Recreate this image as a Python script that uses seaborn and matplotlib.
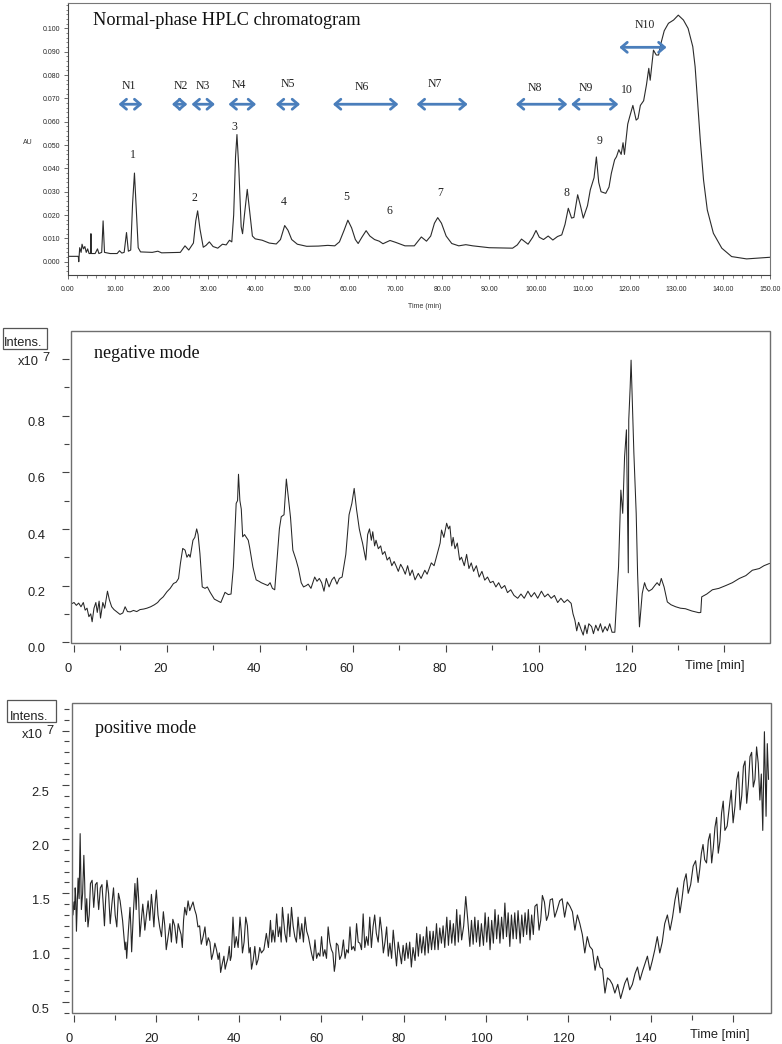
import numpy as np
import pandas as pd
import seaborn as sns
import matplotlib.pyplot as plt
import matplotlib.transforms as mtransforms
from matplotlib.patches import Rectangle
from matplotlib.ticker import MultipleLocator, FixedLocator

# --- HPLC (UV) trace ---
hplc_time = [0, 2.2, 2.3, 2.5, 2.8, 3.0, 3.3, 3.6, 3.9, 4.2, 4.5, 4.8, 4.9, 5.0, 5.8, 6.3, 6.6,
             7.2, 7.5, 7.8, 9.0, 10.5, 11.0, 11.5, 12.0, 12.5, 12.9, 13.4, 13.8, 14.2, 14.6,
             15.0, 15.5, 18.0, 19.2, 20.0, 24.0, 25.0, 25.8, 26.8, 27.3, 27.7, 28.2, 28.9,
             29.5, 30.2, 31.0, 32.0, 33.0, 33.8, 34.5, 35.0, 35.4, 35.8, 36.1, 36.5, 37.0,
             37.3, 37.7, 38.3, 38.8, 39.4, 40.0, 41.5, 43.0, 44.5, 45.4, 46.3, 47.0, 47.8,
             49.0, 51.0, 53.5, 55.5, 57.0, 58.0, 59.0, 59.8, 60.6, 61.4, 62.0, 62.8, 63.7,
             64.5, 65.5, 66.5, 67.3, 68.8, 70.0, 72.0, 74.0, 75.5, 76.6, 77.5, 78.3, 79.0,
             79.8, 80.8, 82.0, 83.5, 85.0, 86.5, 90.0, 95.0, 96.0, 96.9, 98.3, 99.3, 100.0,
             100.7, 101.6, 102.6, 103.6, 104.6, 105.5, 106.2, 106.9, 107.6, 108.1, 108.9,
             109.5, 110.1, 111.0, 111.6, 112.4, 112.9, 113.4, 113.9, 114.9, 115.6, 116.1,
             116.8, 117.2, 117.7, 118.2, 118.6, 118.9, 119.6, 120.0, 120.7, 121.4, 121.8,
             122.3, 123.0, 123.6, 124.1, 124.4, 125.1, 125.7, 126.2, 126.7, 127.4, 128.3,
             129.4, 130.4, 131.5, 132.5, 133.5, 134.0, 134.5, 135.1, 135.8, 136.6, 137.9,
             139.7, 141.8, 145.0, 150.0]
hplc_au = [0.0023, 0.0023, 0.0, 0.006, 0.004, 0.0075, 0.0055, 0.0065, 0.004, 0.0055, 0.0035,
           0.0035, 0.012, 0.0035, 0.0035, 0.0055, 0.0035, 0.004, 0.0175, 0.004, 0.0035,
           0.0035, 0.0047, 0.0037, 0.004, 0.0125, 0.0045, 0.005, 0.025, 0.038, 0.022, 0.006,
           0.0042, 0.004, 0.0045, 0.0038, 0.004, 0.0068, 0.005, 0.008, 0.0175, 0.0218, 0.014,
           0.0062, 0.007, 0.0085, 0.0065, 0.0058, 0.0075, 0.0072, 0.0092, 0.0085, 0.02, 0.045,
           0.0545, 0.04, 0.015, 0.012, 0.02, 0.031, 0.022, 0.011, 0.0098, 0.0092, 0.008,
           0.0076, 0.0095, 0.0155, 0.0135, 0.0095, 0.0075, 0.0066, 0.0067, 0.007, 0.0068,
           0.0085, 0.0135, 0.0178, 0.0145, 0.0095, 0.0078, 0.0105, 0.0133, 0.011, 0.0095,
           0.0088, 0.0077, 0.0091, 0.0083, 0.0068, 0.0068, 0.0106, 0.0088, 0.011, 0.0165,
           0.0189, 0.0165, 0.011, 0.0078, 0.0068, 0.0073, 0.0068, 0.006, 0.0058, 0.0072,
           0.0097, 0.0075, 0.0105, 0.0134, 0.0105, 0.0095, 0.011, 0.0093, 0.0108, 0.0115,
           0.016, 0.0229, 0.0187, 0.019, 0.0287, 0.024, 0.0187, 0.024, 0.0308, 0.036, 0.0449,
           0.034, 0.0300, 0.0293, 0.032, 0.0379, 0.0437, 0.045, 0.048, 0.046, 0.051, 0.046,
           0.059, 0.062, 0.067, 0.0607, 0.0614, 0.067, 0.069, 0.0758, 0.0829, 0.0778, 0.0907,
           0.0886, 0.0886, 0.0936, 0.099, 0.1022, 0.1036, 0.1057, 0.1036, 0.1000, 0.0922,
           0.0836, 0.0693, 0.0522, 0.035, 0.0222, 0.0122, 0.0058, 0.0022, 0.0012, 0.0019]

# fraction windows (start, end) in min and labels
frac_names = ['N1', 'N2', 'N3', 'N4', 'N5', 'N6', 'N7', 'N8', 'N9', 'N10']
frac_start = [10.8, 22.2, 26.4, 34.3, 44.4, 56.6, 74.5, 95.7, 107.5, 117.8]
frac_end = [15.9, 25.5, 31.4, 40.2, 49.6, 70.6, 85.4, 106.7, 117.6, 127.9]
frac_label_x = [12.9, 24.1, 28.7, 36.4, 46.9, 62.7, 78.4, 99.8, 110.7, 123.3]
frac_label_y = [0.0753, 0.0753, 0.0753, 0.0757, 0.0763, 0.0751, 0.0760, 0.0743, 0.0745, 0.1015]
frac_arrow_y = [0.0675, 0.0675, 0.0675, 0.0675, 0.0675, 0.0675, 0.0675, 0.0675, 0.0675, 0.0919]

peak_names = ['1', '2', '3', '4', '5', '6', '7', '8', '9', '10']
peak_x = [13.8, 27.1, 35.5, 46.2, 59.5, 68.7, 79.5, 106.6, 113.5, 119.4]
peak_y = [0.0457, 0.0274, 0.0579, 0.0255, 0.0279, 0.0219, 0.0296, 0.0296, 0.0517, 0.0736]

# --- MS negative mode TIC (x10^7) ---
neg_time = [-0.6, 0.0, 0.5, 1.0, 1.5, 2.0, 2.4, 2.8, 3.2, 3.6, 3.9, 4.3, 4.7, 5.0, 5.4, 5.7,
            6.2, 6.6, 7.2, 7.6, 8.1, 8.6, 9.2, 9.9, 10.5, 11.0, 11.5, 12.1, 12.8, 13.5, 14.2,
            15.0, 15.7, 16.5, 17.3, 18.0, 18.5, 19.2, 20.0, 20.7, 21.4, 22.0, 22.5, 22.9,
            23.4, 23.9, 24.3, 24.7, 25.0, 25.6, 26.0, 26.4, 26.7, 27.1, 27.6, 28.2, 28.7,
            29.3, 30.2, 31.0, 31.6, 32.1, 32.5, 33.2, 33.8, 34.3, 34.9, 35.2, 35.4, 35.7,
            36.0, 36.3, 36.7, 37.1, 37.5, 37.8, 38.5, 39.2, 39.8, 40.3, 41.0, 41.7, 42.2,
            42.7, 43.2, 43.7, 44.2, 44.6, 45.2, 45.7, 46.2, 46.6, 47.1, 47.8, 48.3, 48.9,
            49.4, 50.0, 50.4, 51.0, 51.8, 52.3, 52.8, 53.3, 53.8, 54.3, 54.9, 55.5, 56.0,
            56.6, 57.1, 57.7, 58.5, 59.2, 59.8, 60.3, 60.8, 61.4, 61.8, 62.1, 62.8, 63.2,
            63.6, 64.0, 64.3, 64.7, 65.0, 65.5, 66.0, 66.4, 66.9, 67.4, 67.9, 68.4, 68.9,
            69.3, 69.8, 70.3, 70.8, 71.3, 71.8, 72.3, 72.8, 73.4, 74.1, 74.7, 75.5, 76.0,
            76.9, 77.5, 78.4, 78.8, 79.1, 79.6, 80.2, 80.6, 80.9, 81.3, 81.6, 82.0, 82.5,
            83.0, 83.4, 84.0, 84.5, 85.0, 85.5, 86.0, 86.6, 87.2, 87.8, 88.4, 89.0, 89.6,
            90.2, 90.8, 91.4, 92.0, 92.7, 93.3, 94.0, 94.7, 95.5, 96.2, 96.9, 97.7, 98.4,
            99.1, 99.8, 100.6, 101.3, 102.0, 102.7, 103.4, 104.1, 104.8, 105.5, 106.2, 107.0,
            107.4, 107.8, 108.2, 108.6, 109.2, 109.6, 110.0, 110.4, 110.8, 111.4, 111.8,
            112.3, 112.8, 113.3, 113.8, 114.3, 114.8, 115.3, 115.8, 116.4, 116.8, 117.2,
            117.7, 118.1, 118.5, 118.9, 119.3, 119.4, 119.7, 119.9, 120.1, 120.5, 121.0,
            121.3, 121.7, 122.3, 122.8, 123.2, 123.7, 124.4, 125.0, 125.5, 126.0, 126.4,
            127.0, 127.7, 128.5, 129.5, 130.5, 131.6, 133.0, 134.5, 134.9, 135.1, 136.2,
            137.4, 138.8, 140.3, 141.7, 143.2, 144.6, 146.0, 147.5, 148.5, 149.7]
neg_int = [0.135, 0.14, 0.13, 0.138, 0.125, 0.14, 0.113, 0.12, 0.09, 0.10, 0.072, 0.12, 0.14,
           0.105, 0.145, 0.085, 0.14, 0.12, 0.18, 0.15, 0.125, 0.115, 0.107, 0.098, 0.103,
           0.125, 0.108, 0.107, 0.112, 0.108, 0.115, 0.117, 0.12, 0.125, 0.132, 0.14, 0.15,
           0.16, 0.178, 0.19, 0.207, 0.212, 0.225, 0.278, 0.331, 0.325, 0.30, 0.31, 0.30,
           0.36, 0.37, 0.40, 0.38, 0.313, 0.195, 0.19, 0.195, 0.176, 0.152, 0.145, 0.14, 0.16,
           0.176, 0.168, 0.17, 0.266, 0.49, 0.50, 0.593, 0.50, 0.47, 0.372, 0.38, 0.37, 0.36,
           0.335, 0.265, 0.22, 0.215, 0.21, 0.205, 0.20, 0.21, 0.19, 0.185, 0.29, 0.40, 0.443,
           0.45, 0.576, 0.50, 0.44, 0.325, 0.29, 0.26, 0.21, 0.195, 0.20, 0.205, 0.19, 0.23,
           0.215, 0.225, 0.21, 0.18, 0.225, 0.195, 0.22, 0.23, 0.205, 0.225, 0.23, 0.31, 0.45,
           0.49, 0.543, 0.47, 0.40, 0.37, 0.35, 0.29, 0.38, 0.40, 0.36, 0.39, 0.34, 0.36,
           0.33, 0.34, 0.31, 0.32, 0.29, 0.30, 0.27, 0.285, 0.27, 0.25, 0.275, 0.26, 0.24,
           0.27, 0.235, 0.255, 0.22, 0.243, 0.225, 0.254, 0.24, 0.28, 0.27, 0.325, 0.35,
           0.396, 0.37, 0.42, 0.40, 0.41, 0.34, 0.37, 0.33, 0.35, 0.29, 0.30, 0.27, 0.31,
           0.26, 0.28, 0.25, 0.27, 0.23, 0.25, 0.219, 0.23, 0.21, 0.215, 0.195, 0.21, 0.19,
           0.20, 0.175, 0.185, 0.165, 0.155, 0.17, 0.155, 0.18, 0.16, 0.175, 0.155, 0.18,
           0.16, 0.17, 0.155, 0.165, 0.14, 0.155, 0.14, 0.15, 0.137, 0.10, 0.078, 0.04, 0.07,
           0.042, 0.025, 0.06, 0.03, 0.065, 0.055, 0.03, 0.06, 0.04, 0.065, 0.035, 0.055,
           0.04, 0.065, 0.035, 0.035, 0.15, 0.266, 0.537, 0.455, 0.655, 0.75, 0.245, 0.785,
           0.90, 0.996, 0.89, 0.668, 0.455, 0.243, 0.054, 0.172, 0.21, 0.19, 0.18, 0.187,
           0.20, 0.21, 0.20, 0.225, 0.195, 0.142, 0.132, 0.125, 0.12, 0.118, 0.11, 0.104,
           0.105, 0.16, 0.17, 0.185, 0.19, 0.20, 0.21, 0.225, 0.235, 0.254, 0.26, 0.27, 0.278]

# --- MS positive mode TIC (x10^7): upper/lower swings of the noisy trace ---
pos_time = [-0.5, 0.0, 0.3, 0.6, 1.0, 1.5, 1.8, 2.4, 2.8, 3.4, 4.0, 4.8, 5.6, 6.0, 6.8, 7.4,
            8.0, 8.8, 9.6, 10.4, 11.2, 12.4, 12.8, 13.6, 14.0, 14.8, 15.4, 16.0, 16.7, 17.2,
            18.0, 18.8, 19.4, 20.0, 20.8, 21.7, 22.4, 23.3, 24.0, 24.9, 25.7, 26.3, 26.9,
            27.7, 28.5, 29.3, 30.1, 30.9, 31.8, 32.6, 33.4, 34.2, 35.0, 35.6, 36.4, 37.0,
            37.7, 38.2, 38.6, 39.4, 40.3, 40.9, 41.7, 42.5, 43.1, 43.9, 44.7, 45.5, 46.7,
            47.7, 48.3, 49.2, 50.0, 50.6, 51.2, 52.0, 52.8, 53.6, 54.4, 55.3, 56.1, 56.9,
            57.7, 58.5, 59.3, 60.1, 60.9, 61.7, 62.5, 63.2, 63.7, 64.5, 65.4, 66.2, 67.0,
            67.8, 68.6, 69.4, 70.2, 71.0, 71.8, 72.6, 73.4, 74.3, 75.1, 75.9, 76.7, 77.5,
            78.3, 79.1, 80.7, 81.9, 83.2, 84.4, 85.6, 86.8, 88.0, 89.2, 90.5, 91.7, 92.9,
            94.1, 95.1, 96.1, 97.3, 98.5, 99.8, 101.0, 102.2, 103.4, 104.6, 105.8, 107.0,
            108.3, 109.5, 110.7, 111.9, 112.9, 113.7, 114.7, 115.6, 116.7, 117.9, 119.1,
            120.4, 121.6, 122.8, 124.0, 125.2, 126.5, 127.7, 128.9, 130.1, 131.3, 132.7,
            133.7, 134.9, 136.2, 137.4, 138.6, 139.8, 141.0, 142.2, 143.4, 144.7, 145.9,
            147.1, 148.1, 149.1, 150.3, 151.5, 152.3, 153.1, 154.0, 154.8, 155.6, 156.4,
            157.2, 158.0, 159.1, 160.0, 160.9, 161.7, 162.5, 163.3, 164.1, 164.9, 165.7,
            166.5, 167.2, 167.6, 168.0, 168.3, 168.6]
pos_int = [1.50, 1.42, 1.55, 1.15, 1.64, 2.05, 1.35, 1.85, 1.24, 1.19, 1.59, 1.37, 1.60, 1.35,
           1.58, 1.20, 1.62, 1.22, 1.55, 1.19, 1.43, 0.98, 0.90, 1.37, 0.96, 1.59, 1.64, 1.10,
           1.40, 1.16, 1.43, 1.49, 1.19, 1.53, 1.19, 1.33, 0.98, 1.22, 1.26, 1.04, 1.16, 1.00,
           1.37, 1.43, 1.38, 1.35, 1.19, 1.03, 1.19, 1.09, 0.89, 1.04, 0.89, 0.77, 0.92, 0.85,
           1.01, 0.92, 1.28, 1.10, 1.28, 0.95, 1.28, 0.95, 0.80, 1.01, 0.89, 0.95, 1.13, 1.25,
           1.16, 1.31, 1.19, 1.37, 1.13, 1.31, 1.37, 1.10, 1.28, 1.22, 1.28, 1.10, 0.94, 1.07,
           0.95, 1.10, 0.98, 1.19, 0.98, 0.78, 1.04, 0.89, 1.07, 0.98, 1.19, 1.01, 1.22, 1.04,
           1.31, 1.10, 1.28, 1.19, 1.13, 1.28, 0.95, 1.19, 1.04, 1.16, 0.83, 0.95, 1.04, 0.82,
           1.13, 0.95, 1.19, 0.98, 1.22, 1.04, 1.28, 1.04, 1.35, 1.07, 1.47, 1.01, 1.28, 1.01,
           1.32, 0.98, 1.35, 1.04, 1.41, 1.01, 1.32, 1.04, 1.32, 1.07, 1.38, 1.16, 1.48, 1.25,
           1.44, 1.28, 1.43, 1.28, 1.38, 1.16, 1.22, 0.95, 1.01, 0.79, 0.82, 0.58, 0.70, 0.58,
           0.53, 0.67, 0.61, 0.76, 0.70, 0.85, 0.79, 0.98, 0.95, 1.22, 1.16, 1.44, 1.32, 1.61,
           1.50, 1.75, 1.60, 1.87, 1.81, 1.99, 1.78, 2.11, 1.87, 2.24, 2.08, 2.30, 2.15, 2.55,
           2.27, 2.67, 2.33, 2.76, 2.48, 2.85, 2.36, 2.08, 2.99, 2.21, 2.88, 2.55]
# in-between swings of the same trace (time, intensity)
pos_between = [
    (-0.25, 1.30), (0.15, 1.35), (0.45, 1.45), (0.8, 1.40), (1.25, 1.45), (1.65, 1.70),
    (2.1, 1.50), (2.6, 1.60), (3.1, 1.45), (3.7, 1.30), (4.4, 1.62), (5.2, 1.58),
    (5.8, 1.45), (6.4, 1.55), (7.1, 1.40), (7.7, 1.45), (8.4, 1.50), (9.2, 1.40),
    (10.0, 1.30), (10.8, 1.50), (11.8, 1.25), (12.6, 1.05), (13.2, 1.15), (13.8, 1.20),
    (14.4, 1.30), (15.1, 1.35), (15.7, 1.45), (16.35, 1.25), (16.95, 1.30), (17.6, 1.30),
    (18.4, 1.25), (19.1, 1.35), (19.7, 1.40), (20.4, 1.30), (21.25, 1.10), (22.05, 1.20),
    (22.85, 1.10), (23.65, 1.05), (24.45, 1.20), (25.3, 1.22), (26.0, 1.12), (26.6, 1.25),
    (27.3, 1.30), (28.1, 1.34), (28.9, 1.42), (29.7, 1.30), (30.5, 1.20), (31.35, 1.10),
    (32.2, 1.02), (33.0, 1.05), (33.8, 0.95), (34.6, 0.98), (35.3, 0.95), (36.0, 0.85),
    (36.7, 0.80), (37.35, 0.90), (37.95, 0.88), (38.4, 1.10), (39.0, 1.00), (39.85, 1.00),
    (40.6, 1.15), (41.3, 1.05), (42.1, 1.20), (42.8, 1.00), (43.5, 0.88), (44.3, 0.84),
    (45.1, 1.00), (46.1, 0.98), (47.2, 1.00), (48.0, 1.05), (48.75, 1.05), (49.6, 1.10),
    (50.3, 1.05), (50.9, 1.25), (51.6, 1.05), (52.4, 1.10), (53.2, 1.20), (54.0, 1.05),
    (54.85, 1.08), (55.7, 1.05), (56.5, 1.15), (57.3, 1.02), (58.1, 0.88), (58.9, 0.90),
    (59.7, 0.92), (60.5, 0.92), (61.3, 0.90), (62.1, 1.05), (62.85, 0.95), (63.45, 0.85),
    (64.1, 1.02), (64.95, 0.93), (65.8, 0.90), (66.6, 0.95), (67.4, 0.98), (68.2, 0.97),
    (69.0, 1.05), (69.8, 0.98), (70.6, 1.00), (71.4, 1.02), (72.2, 1.00), (73.0, 1.30),
    (73.85, 1.05), (74.7, 1.15), (75.5, 1.05), (76.3, 0.92), (77.1, 0.90), (77.9, 1.00),
    (78.7, 1.05), (79.5, 0.85), (79.9, 1.02), (80.3, 0.88), (81.1, 0.90), (81.5, 1.05),
    (82.3, 1.00), (82.8, 0.88), (83.6, 0.92), (84.0, 1.12), (84.8, 1.10), (85.2, 0.93),
    (86.0, 0.95), (86.4, 1.15), (87.2, 1.15), (87.6, 0.98), (88.4, 0.98), (88.8, 1.18),
    (89.6, 1.20), (90.0, 1.00), (90.9, 1.02), (91.3, 1.25), (92.1, 1.22), (92.5, 1.02),
    (93.3, 1.05), (93.7, 1.30), (94.6, 1.20), (95.6, 1.25), (96.5, 1.25), (96.9, 1.03),
    (97.7, 1.05), (98.1, 1.25), (98.9, 1.22), (99.4, 1.02), (100.2, 1.05), (100.6, 1.28),
    (101.4, 1.25), (101.8, 1.04), (102.6, 1.08), (103.0, 1.30), (103.8, 1.28), (104.2, 1.08),
    (105.0, 1.10), (105.4, 1.32), (106.2, 1.30), (106.6, 1.08), (107.4, 1.08), (107.8, 1.34),
    (108.7, 1.30), (109.1, 1.10), (109.9, 1.12), (110.3, 1.35), (111.1, 1.30), (111.5, 1.12),
    (112.4, 1.40), (113.3, 1.25), (114.2, 1.42), (115.15, 1.30), (116.15, 1.45),
    (117.3, 1.35), (118.5, 1.45), (119.75, 1.42), (121.0, 1.33), (122.2, 1.30),
    (123.4, 1.12), (124.6, 1.10), (125.85, 0.98), (127.1, 0.92), (128.3, 0.80),
    (129.5, 0.72), (130.7, 0.66), (132.0, 0.66), (133.2, 0.60), (134.3, 0.72),
    (135.55, 0.66), (136.8, 0.82), (138.0, 0.78), (139.2, 0.92), (140.4, 0.88),
    (141.6, 1.10), (142.8, 1.05), (144.05, 1.30), (145.3, 1.28), (146.5, 1.55),
    (147.6, 1.45), (148.6, 1.68), (149.7, 1.58), (150.9, 1.80), (151.9, 1.72),
    (152.7, 1.95), (153.55, 1.78), (154.4, 2.05), (155.2, 1.92), (156.0, 2.20),
    (156.8, 1.98), (157.6, 2.35), (158.55, 2.12), (159.55, 2.45), (160.45, 2.30),
    (161.3, 2.62), (162.1, 2.40), (162.9, 2.72), (163.7, 2.50), (164.5, 2.80),
    (165.3, 2.55), (166.1, 2.70), (166.85, 2.60)]

assert len(hplc_time) == len(hplc_au)
assert len(neg_time) == len(neg_int)
assert len(pos_time) == len(pos_int)

sns.set_theme(style='white')
plt.rcParams['font.family'] = ['Liberation Sans', 'DejaVu Sans']
SERIF = ['Liberation Serif', 'DejaVu Serif']

W, H = 782, 1044
fig = plt.figure(figsize=(W / 100, H / 100), dpi=100)


def fpx(x, y):
    # pixel position -> figure fraction
    return x / W, 1 - y / H


def ax_at(l, t, r, b):
    x0, y1 = fpx(l, t)
    x1, y0 = fpx(r, b)
    return fig.add_axes([x0, y0, x1 - x0, y1 - y0])


# ================= panel 1: HPLC =================
ax1 = ax_at(68, 3, 770, 275)
hp = pd.DataFrame({'t': hplc_time, 'au': hplc_au})
sns.lineplot(data=hp, x='t', y='au', ax=ax1, estimator=None, sort=False,
             color='#2b2b2b', lw=0.8)
ax1.set_xlim(0, 150)
ax1.set_ylim(-0.0057, 0.1109)
ax1.set_xlabel('')
ax1.set_ylabel('')
ax1.xaxis.set_major_locator(MultipleLocator(10))
ax1.xaxis.set_minor_locator(MultipleLocator(2))
ax1.yaxis.set_major_locator(FixedLocator([i / 100 for i in range(11)]))
ax1.yaxis.set_minor_locator(MultipleLocator(0.002))
ax1.xaxis.set_major_formatter(lambda v, p: '%.2f' % v)
ax1.yaxis.set_major_formatter(lambda v, p: '%.3f' % v)
ax1.tick_params(which='major', direction='out', length=3, width=0.6, color='#555555',
                labelsize=5, pad=2.5, bottom=True, left=True)
ax1.tick_params(which='minor', direction='out', length=1.8, width=0.5, color='#555555',
                bottom=True, left=True)
ax1.tick_params(axis='x', pad=5)
for s in ax1.spines.values():
    s.set_color('#777777')
    s.set_linewidth(0.8)
ax1.spines['left'].set_color('#444444')
ax1.spines['bottom'].set_color('#444444')

for name, a, b, lx, ly, ay in zip(frac_names, frac_start, frac_end, frac_label_x,
                                  frac_label_y, frac_arrow_y):
    ax1.annotate('', xy=(b, ay), xytext=(a, ay),
                 arrowprops=dict(arrowstyle='<->,head_length=0.35,head_width=0.3',
                                 color='#4a7ebb', lw=2.0, mutation_scale=12,
                                 shrinkA=0, shrinkB=0))
    ax1.text(lx, ly, name, ha='center', va='center', fontsize=8.5, family=SERIF,
             color='#222222')
for name, px_, py_ in zip(peak_names, peak_x, peak_y):
    ax1.text(px_, py_, name, ha='center', va='center', fontsize=8.5, family=SERIF,
             color='#222222')

fig.text(*fpx(93, 25), 'Normal-phase HPLC chromatogram', family=SERIF, fontsize=13.2,
         va='baseline', ha='left', color='#111111')
fig.text(*fpx(28, 143), 'AU', fontsize=5, ha='center', va='center', color='#333333')
fig.text(*fpx(425, 306), 'Time (min)', fontsize=5, ha='center', va='center', color='#333333')


# ================= panels 2 and 3: MS traces =================
def ms_panel(ax, d, xlim, ylim, xmajor, xminor, ymajor, yminor, ylabels, xlabel_dx,
             ylabel_dy, ypad, lw):
    sns.lineplot(data=d, x='t', y='v', ax=ax, estimator=None, sort=False,
                 color='#262626', lw=lw)
    ax.set_xlim(*xlim)
    ax.set_ylim(*ylim)
    ax.set_xlabel('')
    ax.set_ylabel('')
    for s in ax.spines.values():
        s.set_visible(False)
    ax.spines['left'].set_position(('outward', 1.6))
    ax.spines['bottom'].set_position(('outward', 1.6))
    ax.add_patch(Rectangle((0, 0), 1, 1, transform=ax.transAxes, fill=False,
                           edgecolor='#6e6e6e', lw=1.0, clip_on=False, zorder=5))
    ax.set_xticks(xmajor)
    ax.set_xticks(xminor, minor=True)
    ax.set_xticklabels([str(int(x)) for x in xmajor[:-1]] + [''])
    ax.set_yticks(ymajor)
    ax.set_yticks(yminor, minor=True)
    ax.set_yticklabels(ylabels)
    ax.tick_params(which='major', direction='out', length=5.3, width=0.8, color='#444444',
                   labelsize=9.3, labelcolor='#222222', bottom=True, left=True)
    ax.tick_params(which='minor', direction='out', length=3.8, width=0.8, color='#444444',
                   bottom=True, left=True)
    ax.tick_params(axis='y', pad=ypad)
    ax.tick_params(axis='x', pad=7.5)
    offx = mtransforms.ScaledTranslation(xlabel_dx / 100, 0, fig.dpi_scale_trans)
    for lab in ax.get_xticklabels():
        lab.set_transform(lab.get_transform() + offx)
    offy = mtransforms.ScaledTranslation(0, -ylabel_dy / 100, fig.dpi_scale_trans)
    for lab in ax.get_yticklabels():
        lab.set_transform(lab.get_transform() + offy)


neg = pd.DataFrame({'t': neg_time, 'v': neg_int})
ax2 = ax_at(71, 331, 770, 643)
ms_panel(ax2, neg, (-0.65, 149.8), (-0.003, 1.099),
         [0, 20, 40, 60, 80, 100, 120, 140],
         [10, 30, 50, 70, 90, 110, 130],
         [0.0, 0.2, 0.4, 0.6, 0.8, 1.0],
         [0.1, 0.3, 0.5, 0.7, 0.9],
         ['0.0', '0.2', '0.4', '0.6', '0.8', ''], -6, 5.5, 11.5, 0.75)

pos = pd.concat([pd.DataFrame({'t': pos_time, 'v': pos_int}),
                 pd.DataFrame(pos_between, columns=['t', 'v'])]).sort_values('t')
ax3 = ax_at(71.7, 703, 771, 1013)
ms_panel(ax3, pos, (-0.55, 169.2), (0.396, 3.255),
         [0, 20, 40, 60, 80, 100, 120, 140, 160],
         [10, 30, 50, 70, 90, 110, 130, 150],
         [0.5, 1.0, 1.5, 2.0, 2.5, 3.0],
         [0.4, 0.6, 0.7, 0.8, 0.9, 1.1, 1.2, 1.3, 1.4, 1.6, 1.7, 1.8, 1.9, 2.1, 2.2, 2.3,
          2.4, 2.6, 2.7, 2.8, 2.9, 3.1, 3.2],
         ['0.5', '1.0', '1.5', '2.0', '2.5', ''], -4.5, 6.5, 9, 0.8)

# axis captions drawn like the instrument software
for (bx0, by0, bx1, by1), (tx, ty), (x10x, x10y), (sx, sy), (modex, modey), mode in [
        ((2.7, 327.7, 47.3, 349), (4, 343.3), (28.5, 362.3), (45.7, 357.7), (94, 358.3),
         'negative mode'),
        ((7.3, 700, 55.7, 721.7), (10, 716.7), (32.7, 735), (50, 731), (95, 732.7),
         'positive mode')]:
    x0, y0 = fpx(bx0, by1)
    x1, y1 = fpx(bx1, by0)
    fig.add_artist(Rectangle((x0, y0), x1 - x0, y1 - y0, transform=fig.transFigure,
                             fill=False, edgecolor='#555555', lw=0.9))
    fig.text(*fpx(tx, ty), 'Intens.', fontsize=9.3, ha='left', va='center', color='#222222')
    fig.text(*fpx(x10x, x10y), 'x10', fontsize=9.3, ha='center', va='center', color='#222222')
    fig.text(*fpx(sx, sy), '7', fontsize=9.3, ha='center', va='center', color='#222222')
    fig.text(*fpx(modex, modey), mode, family=SERIF, fontsize=13, ha='left',
             va='baseline', color='#111111')

fig.text(*fpx(715, 666), 'Time [min]', fontsize=9.3, ha='center', va='center',
         color='#222222')
fig.text(*fpx(720, 1035), 'Time [min]', fontsize=9.3, ha='center', va='center',
         color='#222222')

fig.savefig('out.png', dpi=100)
